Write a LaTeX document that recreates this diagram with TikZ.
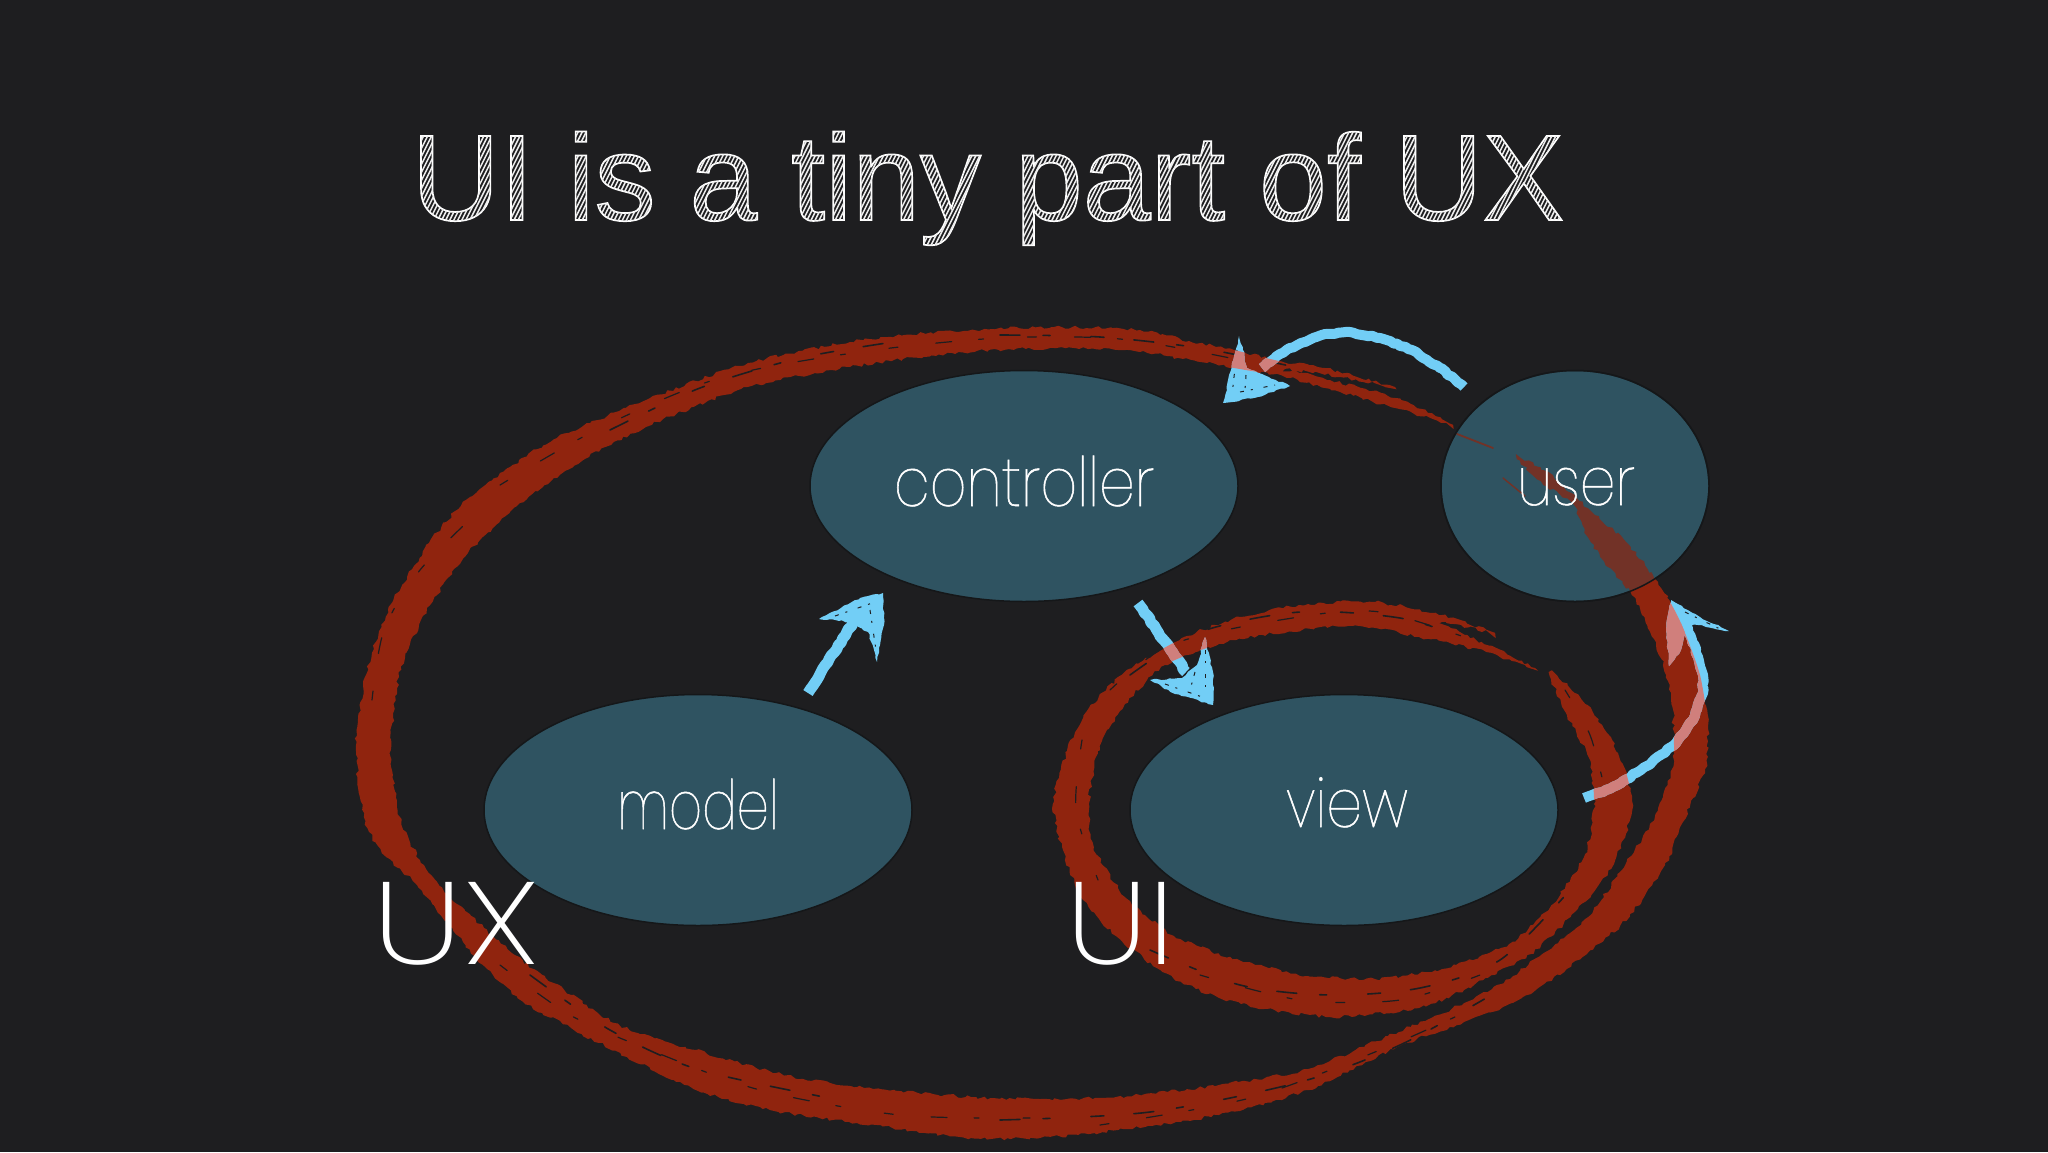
\documentclass[tikz,border=0pt]{standalone}
\usepackage{fontspec}
\usetikzlibrary{shapes.geometric,decorations.pathmorphing}
\newfontfamily\titlefont{Liberation Sans}
\newfontfamily\thinfont{Poppins Thin}[FakeStretch=0.84,FakeBold=0.8]
\newfontfamily\capfont{Poppins ExtraLight}
\definecolor{bgdark}{HTML}{1E1E20}
\definecolor{tealfill}{HTML}{2F5361}
\definecolor{tealedge}{HTML}{151719}
\definecolor{redink}{HTML}{90240E}
\definecolor{chalk}{HTML}{72CEF6}
\definecolor{pinkmix}{HTML}{D07F7C}
\tikzset{
  blob/.style={ellipse,inner sep=0pt,outer sep=0pt,draw=tealedge,line width=1.5pt,fill=tealfill},
  lab/.style={anchor=base,inner sep=0pt,text=white},
  rough/.style={decorate,decoration={random steps,segment length=4pt,amplitude=1.7pt}},
  chalky/.style={line join=round,decorate,decoration={random steps,segment length=4pt,amplitude=.9pt}},
  streak/.style={draw=bgdark,line width=1.6pt,line cap=round,dash pattern=on 20pt off 23pt on 7pt off 41pt on 13pt off 30pt},
  streakb/.style={draw=bgdark,line width=1.2pt,line cap=round,dash pattern=on 9pt off 38pt on 16pt off 27pt on 5pt off 44pt},
  speck/.style={draw=bgdark,line width=1pt,dash pattern=on 4pt off 7pt on 2pt off 11pt},
}
\newcommand\uxpath{plot[smooth cycle,tension=.4] coordinates{
 (1517,459)(1546,471)(1591,511)(1627,543)(1658,582)(1680,621)(1700,675)(1708,729)(1705,769)(1683,822)(1665,865)(1620,926)(1531,994)(1464,1022)(1397,1047)(1308,1090)(1219,1115)(1129,1129)(1040,1138)(971,1138)(857,1123)(770,1110)(696,1090)(627,1057)(529,1005)(483,965)(415,883)(382,853)(364,817)(356,750)(365,677)(388,610)(429,543)(466,500)(510,467)(557,438)(646,400)(748,363)(850,342)(952,331)(1054,327)(1140,330)(1189,341)(1234,350)(1279,361)(1323,368)(1395,387)
 (1340,377)(1285,369)(1330,380)(1395,398)(1453,425)(1395,408)(1340,392)(1290,378)(1234,368)(1140,352)(1054,348)(952,353)(850,367)(748,387)(646,427)(585,459)(520,503)(468,553)(424,615)(399,677)(391,750)(400,817)(420,860)(449,895)(515,955)(598,1013)(638,1033)(696,1050)(776,1073)(857,1087)(971,1097)(1040,1099)(1116,1097)(1219,1085)(1308,1069)(1388,1036)(1469,1001)(1513,976)(1585,919)(1620,872)(1652,822)(1672,769)(1674,746)(1671,693)(1654,639)(1631,593)(1604,561)(1587,536)(1573,504)(1546,486)}}
\newcommand\uipath{plot[smooth cycle,tension=.4] coordinates{
 (1549,672)(1580,697)(1607,733)(1625,769)(1632,811)(1611,869)(1576,911)(1531,954)(1464,990)(1419,1008)(1330,1017)(1241,1004)(1174,979)(1116,936)(1080,894)(1062,847)(1053,804)(1067,751)(1089,708)(1129,669)(1187,636)(1241,617)(1308,604)(1375,602)(1442,615)(1495,633)
 (1442,622)(1460,632)(1535,668)(1486,652)(1419,637)(1353,626)(1263,635)(1219,644)(1165,665)(1125,704)(1098,751)(1089,804)(1094,847)(1125,897)(1174,936)(1241,961)(1308,976)(1375,979)(1442,969)(1509,944)(1553,904)(1585,854)(1594,804)(1589,758)(1567,715)}}
\newcommand\brusharrows[1]{%
  \pgfmathsetseed{11}%
  \draw[line width=11pt,draw=#1,chalky] (ma) -- (mb);
  \fill[#1,chalky] (819,619)--(860,598)--(883,593)--(884,625)--(877,662)--(868,632)--(850,622)--cycle;
  \draw[line width=11pt,draw=#1,chalky] (ca) -- (cb);
  \fill[#1,chalky] (1205,637)--(1213,672)--(1213,705)--(1175,694)--(1150,680)--(1182,678)--(1197,665)--cycle;
  \draw[line width=10pt,draw=#1,chalky] (ua)--(1440,368)--(1412,350)--(1380,338)--(uc)--(1325,334)--(1301,343)--(1280,354)--(ue);
  \fill[#1,chalky] (1239,336)--(1231,370)--(1223,403)--(1258,397)--(1290,386)--(1262,374)--(1247,368)--(1243,350)--cycle;
  \draw[line width=10pt,draw=#1,chalky] (va)--(1606,790)--(1627,779)--(1652,762)--(1676,743)--(1693,720)--(vd)--(1703,675)--(1698,657)--(1692,640)--(vf);
  \fill[#1,chalky] (1671,600)--(1700,617)--(1729,631)--(1698,625)--(1686,625)--(1681,650)--(1669,666)--(1666,630)--cycle;
}
\newcommand\titlehatch{%
  \special{pdf:code 0.93 0.93 0.93 RG 1.5 w}%
  \foreach \i in {-750,...,750}{%
    \special{pdf:code \the\numexpr\i*4\relax\space -1500 m \the\numexpr\i*4+1500\relax\space 1500 l S}}%
}
\begin{document}
\begin{tikzpicture}[x=1pt,y=-1pt]
\useasboundingbox (0,0) rectangle (2048,1152);
\fill[bgdark] (0,0) rectangle (2048,1152);
% title
\node[lab] (title) at (988,220) {\titlefont\fontsize{122}{122}\selectfont\special{pdf:code q 5 Tr 1.7 w}UI is a tiny part of UX\titlehatch\special{pdf:code Q}};
% ellipses
\node[blob,minimum width=428pt,minimum height=231pt] (controller) at (1024,486) {};
\node[blob,minimum width=428pt,minimum height=231pt] (model) at (698,810) {};
\node[blob,minimum width=428pt,minimum height=231pt] (view) at (1344,810) {};
\node[blob,minimum width=268pt,minimum height=231pt] (userbase) at (1575,486) {};
% named arrow ends
\coordinate (ma) at (808,693); \coordinate (mb) at (856,618);
\coordinate (ca) at (1138,603); \coordinate (cb) at (1186,672);
\coordinate (ua) at (1464,387); \coordinate (uc) at (1350,332); \coordinate (ue) at (1262,368);
\coordinate (va) at (1584,798); \coordinate (vd) at (1703,693); \coordinate (vf) at (1685,622);
% brush rings
\pgfmathsetseed{3}
\fill[redink,rough] \uxpath;
\fill[redink,rough] \uipath;
\draw[redink,line width=1.8pt,line cap=round] (1457,434) -- (1493,448);
\draw[redink,line width=1.4pt,line cap=round] (1503,478) -- (1525,496);
% dry brush streaks
\draw[streak] plot[smooth] coordinates{(610,430)(700,388)(800,358)(900,341)};
\draw[streakb] plot[smooth] coordinates{(500,485)(600,428)(720,378)(860,352)(1000,338)(1120,339)(1230,358)};
\draw[streak] plot[smooth] coordinates{(1000,335)(1100,337)(1200,348)(1290,366)};
\draw[streakb] plot[smooth] coordinates{(372,700)(384,630)(420,570)(480,510)};
\draw[streak] plot[smooth] coordinates{(530,975)(610,1030)(700,1070)(850,1102)};
\draw[streakb] plot[smooth] coordinates{(500,965)(570,1015)(650,1050)(760,1090)(900,1115)(1030,1118)};
\draw[streak] plot[smooth] coordinates{(1000,1120)(1150,1112)(1300,1082)(1400,1045)(1500,990)};
\draw[streakb] plot[smooth] coordinates{(1100,1125)(1250,1098)(1380,1050)(1470,1010)};
\draw[streakb] plot[smooth] coordinates{(1610,600)(1650,660)(1664,720)(1660,790)};
\draw[streak] plot[smooth] coordinates{(1130,675)(1200,632)(1300,612)(1400,618)(1470,640)};
\draw[streakb] plot[smooth] coordinates{(1110,690)(1170,645)(1280,620)(1380,612)(1500,650)};
\draw[streakb] plot[smooth] coordinates{(1082,740)(1076,810)(1098,880)};
\draw[streak] plot[smooth] coordinates{(1150,950)(1240,985)(1330,995)(1420,988)(1500,960)(1570,890)};
\draw[streakb] plot[smooth] coordinates{(1200,975)(1300,1000)(1400,1000)(1480,975)};
\draw[streakb] plot[smooth] coordinates{(1565,690)(1590,735)(1605,790)};
% chalk arrows
\brusharrows{chalk}
\draw[speck] (835,616) -- (875,602); \draw[speck] (870,610) -- (876,650);
\draw[speck] (1205,650) -- (1205,695); \draw[speck] (1165,684) -- (1205,698); \draw[speck] (1195,672) -- (1190,690);
\draw[speck] (1237,350) -- (1232,395); \draw[speck] (1240,392) -- (1275,385); \draw[speck] (1246,375) -- (1245,390);
\draw[speck] (1685,612) -- (1722,630);
\begin{scope}
  \clip \uxpath;
  \brusharrows{pinkmix}
\end{scope}
\begin{scope}
  \clip \uipath;
  \brusharrows{pinkmix}
\end{scope}
% translucent user ellipse above the brush
\node[ellipse,inner sep=0pt,outer sep=0pt,draw=tealedge,line width=1.5pt,fill=tealfill,fill opacity=.3,minimum width=268pt,minimum height=231pt] (user) at (1575,486) {};
% labels
\node[lab] (controllertext) at (1024,506) {\thinfont\fontsize{68}{68}\selectfont controller};
\node[lab] (modeltext) at (698,829) {\thinfont\fontsize{68}{68}\selectfont\scalebox{.9}[1]{model}};
\node[lab] (viewtext) at (1347,827) {\thinfont\fontsize{68}{68}\selectfont view};
\node[lab] (usertext) at (1576,505) {\thinfont\fontsize{68}{68}\selectfont user};
\node[lab] (uxtext) at (456,964) {\capfont\fontsize{117}{117}\selectfont\scalebox{1.2}[1]{UX}};
\node[lab] (uitext) at (1121,964) {\capfont\fontsize{117}{117}\selectfont\scalebox{1.08}[1]{UI}};
\end{tikzpicture}
\end{document}
